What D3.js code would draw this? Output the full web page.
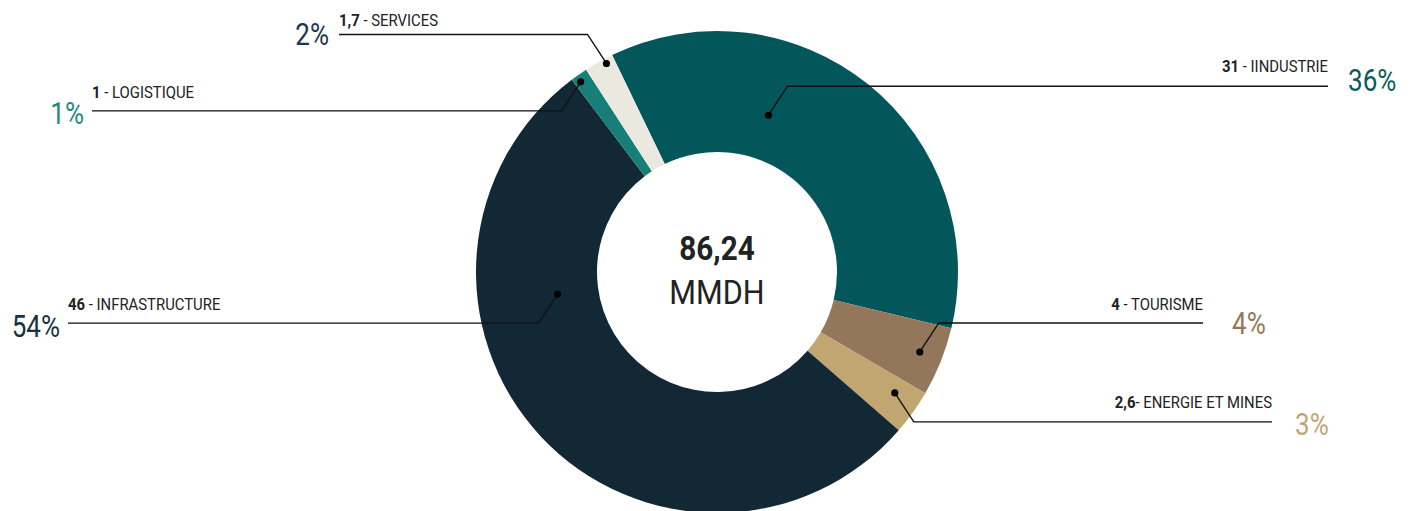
<!DOCTYPE html>
<html>
<head>
<meta charset="utf-8">
<script src="https://cdn.jsdelivr.net/npm/d3@7"></script>
<style>
  html, body { margin: 0; padding: 0; background: #fff; }
  svg { display: block; font-family: Roboto, 'Noto Sans', sans-serif; }
</style>
</head>
<body>
<svg id="chart" width="1417" height="511"></svg>
<script>
'use strict'

// chart data
const categories = ['Industrie', 'Tourisme', 'Energie et mines', 'Infrastructure', 'Logistique', 'Services']
const values = [31, 4, 2.6, 46, 1, 1.7]
const labelTexts = [' - IINDUSTRIE', ' - TOURISME', '- ENERGIE ET MINES', ' - INFRASTRUCTURE', ' - LOGISTIQUE', ' - SERVICES']
const percentLabels = ['36%', '4%', '3%', '54%', '1%', '2%']
const totalLabel = '86,24'
const unitLabel = 'MMDH'

const colors = ['#03565a', '#94775b', '#c2a672', '#122835', '#177f78', '#ebe8df']
const percentColors = ['#0b5a5b', '#94775b', '#c2a672', '#1a3142', '#1f8a80', '#1c3652']

// callout layout: where the dot sits inside its slice and where the label line goes
const callouts = [
  { t: 0.34, r: 165, sx: 1, sy: -1, end: 1328, labelDy: -14, pctDx: 20, pctDy: 5 },
  { t: 0.48, r: 218, sx: 1, sy: -1, end: 1203, labelDy: -13, pctDx: 29, pctDy: 11 },
  { t: 0.37, r: 215, sx: 1, sy: 1, end: 1272, labelDy: -14, pctDx: 23, pctDy: 13 },
  { t: 0.683, r: 161, sx: -1, sy: 1, end: 68, labelDy: -13, pctDx: 8, pctDy: 14 },
  { t: 0.34, r: 234, sx: -1, sy: 1, end: 92, labelDy: -13, pctDx: 8, pctDy: 13 },
  { t: 0.7, r: 236, sx: -1, sy: -1, end: 339, labelDy: -8, pctDx: 10, pctDy: 11 }
]

const svg = d3.select('#chart')
const cx = 717
const cy = 272
const outerR = 241
const innerR = 120
const startAngle = -25.8 * Math.PI / 180
// the original typeface is narrow, so Roboto gets squeezed a bit
const narrow = 0.84

const fmt = d3.formatLocale({ decimal: ',', thousands: ' ', grouping: [3], currency: ['', ''] }).format('~g')

const pie = d3.pie()
  .sort(null)
  .value((d) => d)
  .startAngle(startAngle)
  .endAngle(startAngle + 2 * Math.PI)

const arc = d3.arc()
  .innerRadius(innerR)
  .outerRadius(outerR)

const arcs = pie(values)

const g = svg.append('g')
  .attr('transform', `translate(${cx},${cy})`)

g.selectAll('path')
  .data(arcs)
  .enter().append('path')
    .attr('d', arc)
    .attr('fill', (d, i) => colors[i])

// center label
g.append('text')
  .attr('text-anchor', 'middle')
  .attr('transform', 'translate(0,-12) scale(0.9,1)')
  .attr('font-size', 33)
  .attr('font-weight', 700)
  .attr('fill', '#222')
  .text(totalLabel)

g.append('text')
  .attr('text-anchor', 'middle')
  .attr('transform', 'translate(0,32) scale(0.9,1)')
  .attr('font-size', 34)
  .attr('fill', '#222')
  .text(unitLabel)

// callouts
const points = arcs.map((a, i) => {
  const c = callouts[i]
  const ang = a.startAngle + c.t * (a.endAngle - a.startAngle)
  const x = cx + c.r * Math.sin(ang)
  const y = cy - c.r * Math.cos(ang)
  const ex = x + c.sx * 19
  const ey = y + c.sy * 29
  return { i: i, x: x, y: y, ex: ex, ey: ey, c: c }
})

const lines = svg.append('g')

lines.selectAll('polyline')
  .data(points)
  .enter().append('polyline')
    .attr('points', (p) => [[p.x, p.y], [p.ex, p.ey], [p.c.end, p.ey]].map((q) => q.join(',')).join(' '))
    .attr('fill', 'none')
    .attr('stroke', '#111')
    .attr('stroke-width', 1.4)

lines.selectAll('circle')
  .data(points)
  .enter().append('circle')
    .attr('cx', (p) => p.x)
    .attr('cy', (p) => p.y)
    .attr('r', 3.6)
    .attr('fill', '#000')

const label = lines.selectAll('text.label')
  .data(points)
  .enter().append('text')
    .attr('class', 'label')
    .attr('transform', (p) => `translate(${p.c.end},${p.ey + p.c.labelDy}) scale(0.93,1)`)
    .attr('text-anchor', (p) => p.c.sx > 0 ? 'end' : 'start')
    .attr('font-size', 16)
    .attr('fill', '#222')

label.append('tspan')
  .attr('font-weight', 700)
  .text((p) => fmt(values[p.i]))

label.append('tspan')
  .text((p) => labelTexts[p.i])

lines.selectAll('text.pct')
  .data(points)
  .enter().append('text')
    .attr('class', 'pct')
    .attr('transform', (p) => `translate(${p.c.end + p.c.sx * p.c.pctDx},${p.ey + p.c.pctDy}) scale(${narrow},1)`)
    .attr('text-anchor', (p) => p.c.sx > 0 ? 'start' : 'end')
    .attr('font-size', 31)
    .attr('fill', (p) => percentColors[p.i])
    .text((p) => percentLabels[p.i])
</script>
</body>
</html>
